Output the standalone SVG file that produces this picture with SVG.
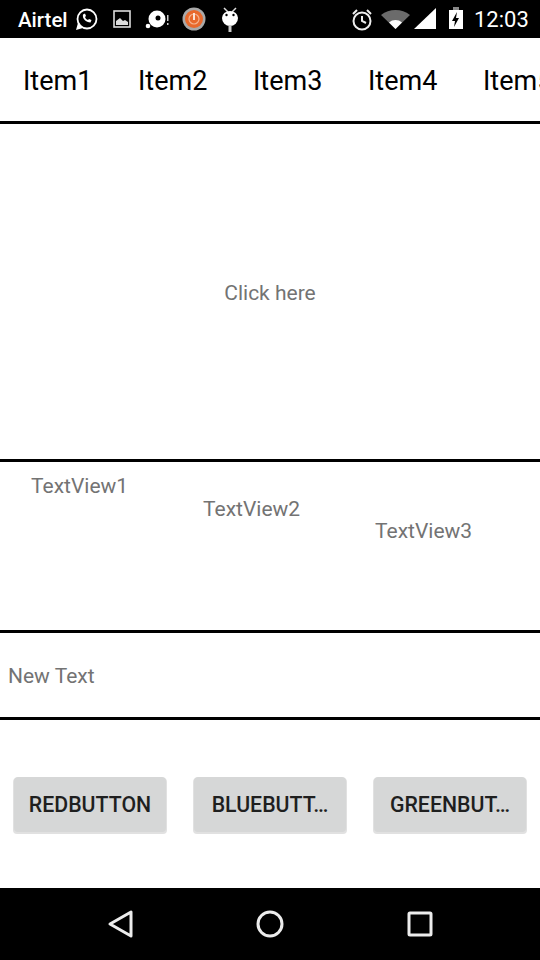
<svg xmlns="http://www.w3.org/2000/svg" width="540" height="960" viewBox="0 0 540 960">
<style>
text{font-family:Roboto,"Liberation Sans",sans-serif}
.st{fill:#fff;font-size:20.500px;font-weight:500}
.tab{fill:#000;font-size:27px}
.tv{fill:#737373;font-size:21px}
.btn{fill:#1f1f1f;font-size:21.300px;font-weight:500;text-anchor:middle}
.bg{fill:#d6d7d7}
.sh{fill:#d4d4d4;fill-opacity:.7}
.div{fill:#000}
.nav{fill:none;stroke:#ececec;stroke-width:3;stroke-linejoin:round}
</style>
<rect width="540" height="960" fill="#fff"/>
<g id="status-bar">
<rect width="540" height="38" fill="#000"/>
<text class="st" x="18" y="26.500">Airtel</text>
<g fill="none" stroke="#fff" stroke-width="1.800"><circle cx="87" cy="19" r="9.500"/></g>
<path d="M76 30l2-7 5 5z" fill="#fff"/>
<path d="M83 14.500c-1 4 3 8 7.500 8l1-2.500-2.500-1-1 1c-1.500-.5-2.500-1.500-3-3l1-1-1-2.500z" fill="#fff"/>
<rect x="114" y="11" width="16" height="16" fill="none" stroke="#ddd" stroke-width="1.600"/>
<path d="M116 25v-4l4-3 3 3 2-1 3 2v3z" fill="#ddd"/>
<circle cx="157" cy="19" r="8.500" fill="#fff"/><circle cx="158" cy="18" r="2.500" fill="#000"/><circle cx="148" cy="26" r="2.300" fill="#fff"/>
<rect x="167" y="15" width="1.500" height="6" fill="#ccc"/><rect x="167" y="23" width="1.500" height="2" fill="#ccc"/>
<circle cx="194" cy="19" r="11.500" fill="#a9a9a9"/><circle cx="194" cy="19" r="9" fill="#e8692c"/>
<circle cx="194" cy="19" r="5" fill="none" stroke="#f6b48f" stroke-width="1.200"/><rect x="193" y="13" width="2" height="7" fill="#fbe3d5"/>
<path d="M224 8l4 4M236 8l-4 4" stroke="#ddd" stroke-width="1.500"/>
<path d="M222 18a8 7 0 0 1 16 0a8 8 0 0 1-16 0z" fill="#fff"/>
<circle cx="226.500" cy="15" r="1.200" fill="#000"/><circle cx="233.500" cy="15" r="1.200" fill="#000"/>
<rect x="228.500" y="25" width="3" height="7" fill="#ccc"/>
<g fill="none" stroke="#eee" stroke-width="2"><circle cx="362" cy="21" r="8.500"/><path d="M362 16v5l4 2M353 14l4-4M371 14l-4-4"/></g>
<path d="M381 15a24 24 0 0 1 29 0l-14.500 14z" fill="#6b6b6b"/>
<path d="M389 22.500a10 10 0 0 1 13 0l-6.500 6.500z" fill="#fff"/>
<path d="M414 29l22-21v21z" fill="#fff"/>
<rect x="449" y="10" width="14" height="19" fill="#fff"/><rect x="453" y="7" width="6" height="3" fill="#888"/>
<path d="M457 12l-5 9h3l-1 6 5-9h-3z" fill="#000"/>
<text x="474" y="27" fill="#fff" style="font-size:22px">12:03</text>
</g>
<g id="tabs">
<text class="tab" x="23" y="90">Item1</text>
<text class="tab" x="138" y="90">Item2</text>
<text class="tab" x="253" y="90">Item3</text>
<text class="tab" x="368" y="90">Item4</text>
<text class="tab" x="483" y="90">Item5</text>
</g>
<g id="dividers">
<rect class="div" y="121" width="540" height="3"/>
<rect class="div" y="459" width="540" height="3"/>
<rect class="div" y="630" width="540" height="3"/>
<rect class="div" y="717" width="540" height="3"/>
</g>
<g id="click-here"><text class="tv" x="270" y="299.500" text-anchor="middle">Click here</text></g>
<g id="textview1"><text class="tv" x="31" y="492.500">TextView1</text></g>
<g id="textview2"><text class="tv" x="203" y="515.500">TextView2</text></g>
<g id="textview3"><text class="tv" x="375" y="537.500">TextView3</text></g>
<g id="new-text"><text class="tv" x="8" y="682.500">New Text</text></g>
<g id="redbutton"><rect class="sh" x="13" y="778" width="154" height="56" rx="4"/><rect class="bg" x="14" y="777" width="152" height="55" rx="4"/><text class="btn" x="90" y="812">REDBUTTON</text></g>
<g id="bluebutton"><rect class="sh" x="193" y="778" width="154" height="56" rx="4"/><rect class="bg" x="194" y="777" width="152" height="55" rx="4"/><text class="btn" x="270" y="812">BLUEBUTT…</text></g>
<g id="greenbutton"><rect class="sh" x="373" y="778" width="154" height="56" rx="4"/><rect class="bg" x="374" y="777" width="152" height="55" rx="4"/><text class="btn" x="450" y="812">GREENBUT…</text></g>
<g id="nav-bar">
<rect y="888" width="540" height="72" fill="#000"/>
<path class="nav" d="M131 912v24l-21-12z"/>
<circle class="nav" cx="270" cy="924" r="12"/>
<rect class="nav" x="409" y="913" width="22" height="22" rx="1"/>
</g>
</svg>
